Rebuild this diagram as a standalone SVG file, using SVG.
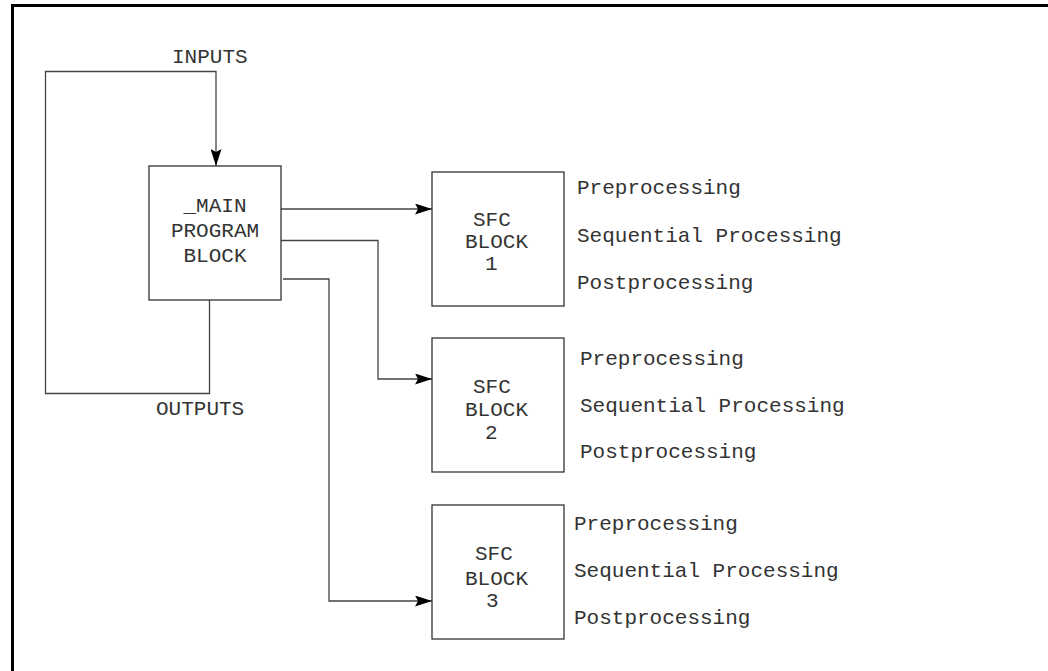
<svg xmlns="http://www.w3.org/2000/svg" width="1048" height="671" viewBox="0 0 1048 671">
  <style>
    .frame { fill: none; stroke: #000; stroke-width: 3; }
    .box { fill: #fff; stroke: #333; stroke-width: 1.3; }
    .wire { fill: none; stroke: #444; stroke-width: 1.3; }
    text { font-family: "Courier New", "Nimbus Mono PS", "FreeMono", Courier, "Liberation Mono", monospace; font-size: 21px; fill: #333; }
    .mid { text-anchor: middle; }
  </style>
  <defs>
    <marker id="arrow" viewBox="0 0 17 11" refX="17" refY="5.5" markerWidth="17" markerHeight="11" markerUnits="userSpaceOnUse" orient="auto">
      <path d="M0,0 L17,5.5 L0,11 L3,5.5 Z" fill="#000"/>
    </marker>
  </defs>

  <rect width="1048" height="671" fill="#fff"/>
  <!-- outer frame, open to the right and bottom -->
  <path class="frame" d="M12.5,680 V5.5 H1060"/>

  <!-- connectors -->
  <g id="connectors">
    <path class="wire" d="M209.5,300 V393.5 H45.5 V71.5 H216 V166" marker-end="url(#arrow)"/>
    <path class="wire" d="M281,209 H432" marker-end="url(#arrow)"/>
    <path class="wire" d="M281,240.5 H378 V379 H432" marker-end="url(#arrow)"/>
    <path class="wire" d="M283,279 H329 V601 H432" marker-end="url(#arrow)"/>
    <text x="172" y="63">INPUTS</text>
    <text x="156" y="415">OUTPUTS</text>
  </g>

  <!-- main program block -->
  <g id="main-block">
    <rect class="box" x="149" y="166" width="132" height="134"/>
    <text class="mid" x="215" y="212">_MAIN</text>
    <text class="mid" x="215" y="237">PROGRAM</text>
    <text class="mid" x="215" y="262">BLOCK</text>
  </g>

  <!-- SFC block 1 -->
  <g id="sfc-block-1">
    <rect class="box" x="432" y="172" width="132" height="134"/>
    <text x="473" y="226">SFC</text>
    <text x="465" y="248">BLOCK</text>
    <text x="485" y="270">1</text>
    <text x="577" y="194">Preprocessing</text>
    <text x="577" y="242">Sequential Processing</text>
    <text x="577" y="289">Postprocessing</text>
  </g>

  <!-- SFC block 2 -->
  <g id="sfc-block-2">
    <rect class="box" x="432" y="338" width="132" height="134"/>
    <text x="473" y="393">SFC</text>
    <text x="465" y="416">BLOCK</text>
    <text x="485" y="439">2</text>
    <text x="580" y="365">Preprocessing</text>
    <text x="580" y="412">Sequential Processing</text>
    <text x="580" y="458">Postprocessing</text>
  </g>

  <!-- SFC block 3 -->
  <g id="sfc-block-3">
    <rect class="box" x="432" y="505" width="132" height="134"/>
    <text x="475" y="560">SFC</text>
    <text x="465" y="585">BLOCK</text>
    <text x="486" y="607">3</text>
    <text x="574" y="530">Preprocessing</text>
    <text x="574" y="577">Sequential Processing</text>
    <text x="574" y="624">Postprocessing</text>
  </g>
</svg>
